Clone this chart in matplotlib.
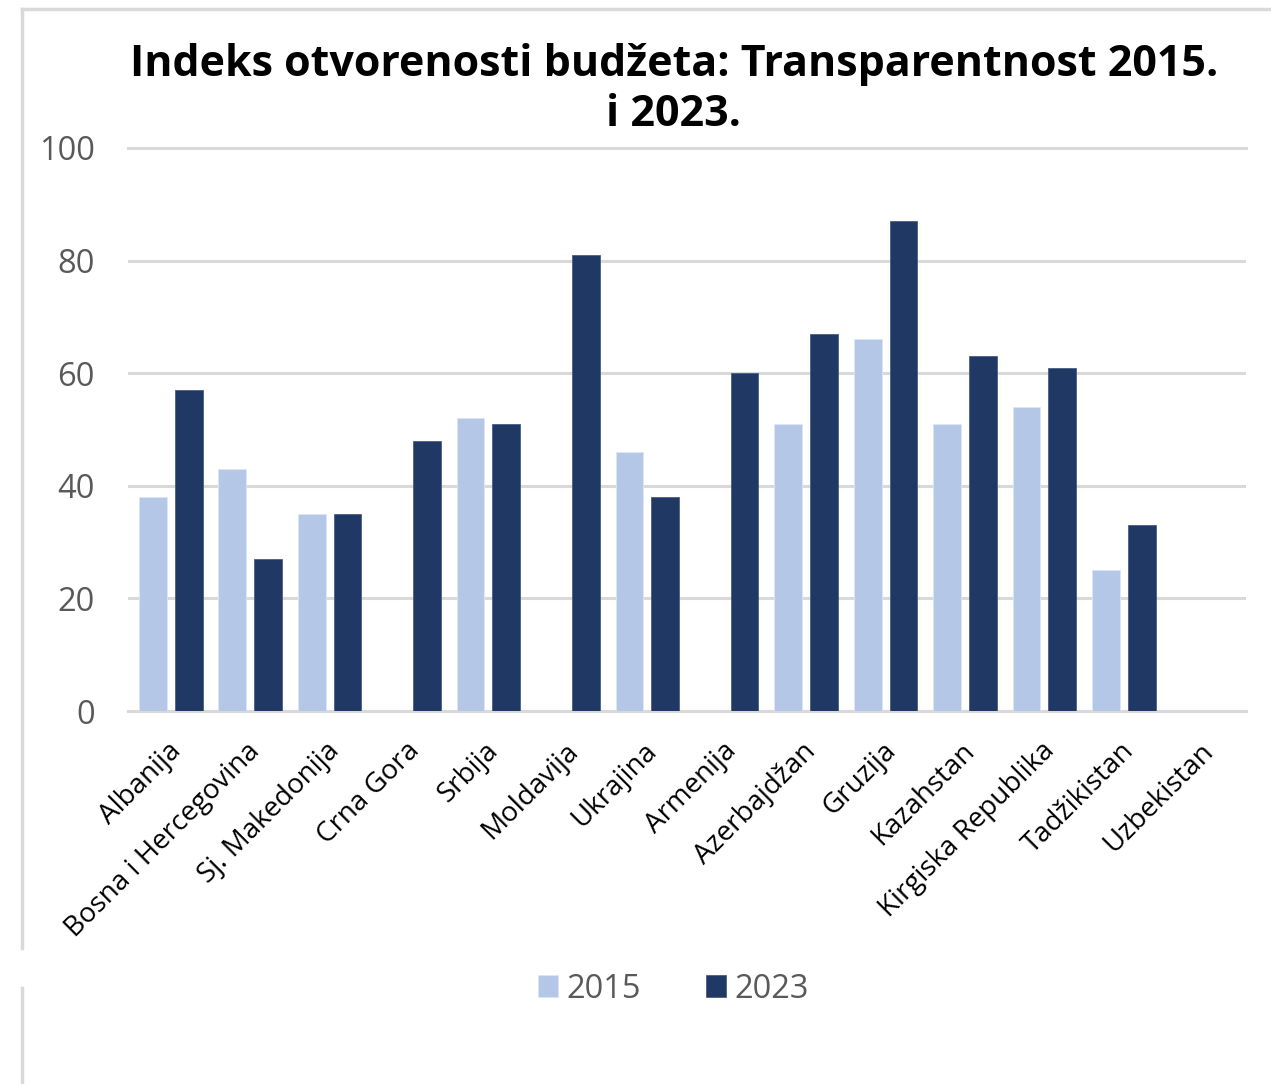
import numpy as np
import matplotlib
matplotlib.use("Agg")
import matplotlib.pyplot as plt
from matplotlib.lines import Line2D

plt.rcParams["font.family"] = ["Open Sans", "DejaVu Sans"]

countries = ["Albanija", "Bosna i Hercegovina", "Sj. Makedonija", "Crna Gora",
             "Srbija", "Moldavija", "Ukrajina", "Armenija", "Azerbajdžan",
             "Gruzija", "Kazahstan", "Kirgiska Republika", "Tadžikistan",
             "Uzbekistan"]
v2015 = [38, 43, 35, np.nan, 52, np.nan, 46, np.nan, 51, 66, 51, 54, 25, np.nan]
v2023 = [57, 27, 35, 48, 51, 81, 38, 60, 67, 87, 63, 61, 33, np.nan]
yticks = [0, 20, 40, 60, 80, 100]

c2015 = "#B4C7E7"
c2023 = "#203864"
grid_c = "#D9D9D9"
tick_c = "#595959"

W, H = 1271, 1084
fig = plt.figure(figsize=(W / 100, H / 100), dpi=100)
ax = fig.add_axes([128 / W, 1 - 711 / H, (1246 - 128) / W, (711 - 148) / H])

x = np.arange(len(countries))
bw = 0.35
ax.bar(x - 0.225, v2015, bw, color=c2015, edgecolor="#DCE6F5", linewidth=0.6,
       label="2015", zorder=3)
ax.bar(x + 0.225, v2023, bw, color=c2023, edgecolor="#4A5E85", linewidth=0.6,
       label="2023", zorder=3)

ax.set_xlim(-0.538, len(countries) - 1 + 0.538)
ax.set_ylim(0, 100)
ax.set_yticks(yticks)
ax.set_yticklabels([str(t) for t in yticks], fontsize=23.5, color=tick_c)
ax.tick_params(axis="y", length=0, pad=24)
ax.tick_params(axis="x", length=0, pad=0)
ax.yaxis.grid(True, color=grid_c, linewidth=2.2, zorder=0)
ax.set_axisbelow(True)
for s in ["left", "right"]:
    ax.spines[s].set_visible(False)
for s in ["top", "bottom"]:
    ax.spines[s].set_color(grid_c)
    ax.spines[s].set_linewidth(2.2)

ax.set_xticks(x)
ax.set_xticklabels([])
for xi, name in zip(x, countries):
    ax.annotate(name, xy=(xi, 0), xycoords=("data", "axes fraction"),
                xytext=(6, -36), textcoords="offset pixels",
                rotation=45, rotation_mode="anchor", ha="right", va="center",
                fontsize=20, color="black")

fig.text(674 / W, 1 - 64 / H, "Indeks otvorenosti budžeta: Transparentnost 2015.",
         ha="center", va="center", fontsize=31, fontweight="bold")
fig.text(674 / W, 1 - 115 / H, "i 2023.",
         ha="center", va="center", fontsize=31, fontweight="bold")

leg = fig.legend(loc="center", bbox_to_anchor=(673 / W, 1 - 989 / H), ncol=2,
                 frameon=False, fontsize=23.5, handlelength=0.62, handleheight=0.62,
                 handletextpad=0.25, columnspacing=2.0)
for t in leg.get_texts():
    t.set_color(tick_c)

# chart frame (top and left edge of the pasted chart)
fig.add_artist(Line2D([22 / W, 1], [1 - 9 / H, 1 - 9 / H], color=grid_c, linewidth=2.5))
fig.add_artist(Line2D([22 / W, 22 / W], [1 - 9 / H, 1 - 948 / H], color=grid_c, linewidth=2.5))
fig.add_artist(Line2D([22 / W, 22 / W], [1 - 988 / H, 0], color=grid_c, linewidth=2.5))

plt.savefig("out.png", dpi=100)
